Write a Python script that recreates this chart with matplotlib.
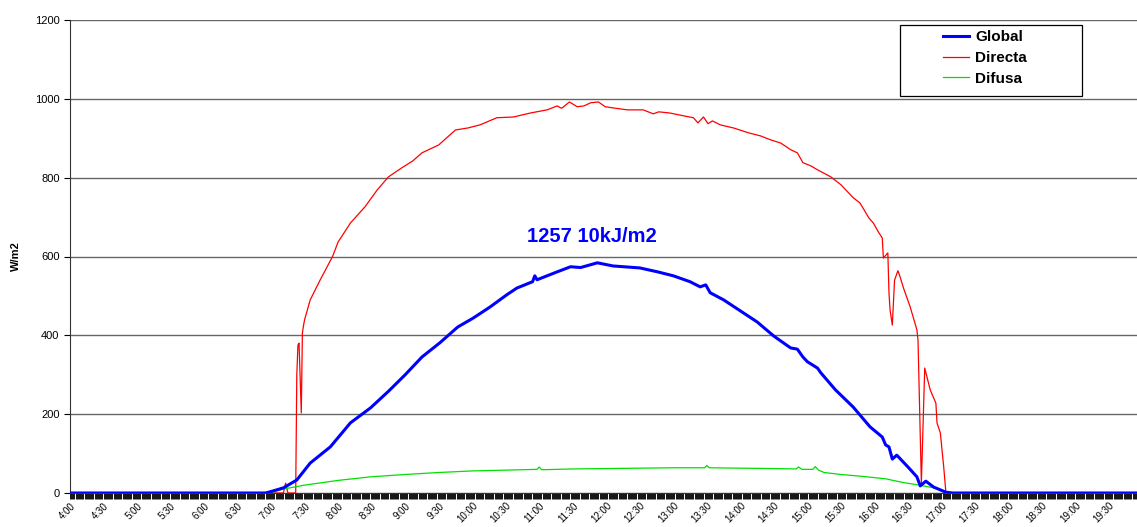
import numpy as np
import matplotlib.pyplot as plt
from matplotlib.ticker import MultipleLocator
from matplotlib.patches import Rectangle

plt.rcParams['font.family'] = ['Liberation Sans', 'DejaVu Sans']

# --- data (W/m2) ---
global_t = ["4:00", "6:55", "6:59", "7:11", "7:23", "7:35", "7:53", "8:11", "8:29",
            "8:45", "9:00", "9:15", "9:31", "9:47", "10:01", "10:16", "10:31", "10:40",
            "10:54", "10:56", "10:58", "11:16", "11:28", "11:37", "11:52", "12:06",
            "12:30", "12:46", "13:00", "13:15", "13:24", "13:29", "13:33", "13:45",
            "14:00", "14:15", "14:30", "14:45", "14:51", "14:56", "15:00", "15:09",
            "15:12", "15:25", "15:41", "15:56", "16:07", "16:10", "16:13", "16:16",
            "16:20", "16:30", "16:38", "16:41", "16:46", "16:53", "17:04", "17:10",
            "20:00"]
global_v = [0, 0, 3, 13, 33, 76, 117, 178, 216,
            258, 300, 345, 381, 421, 444, 472, 503, 520,
            536, 551, 541, 561, 574, 572, 584, 576,
            571, 561, 551, 536, 523, 528, 508, 490,
            462, 434, 398, 368, 365, 345, 333, 317,
            305, 262, 218, 168, 142, 122, 117, 86,
            96, 66, 41, 18, 30, 15, 2, 0,
            0]

direct_t = ["4:00", "7:11", "7:13", "7:15", "7:22", "7:23", "7:24", "7:25", "7:27",
            "7:28", "7:29", "7:30", "7:35", "7:44", "7:55", "8:00", "8:11", "8:24",
            "8:35", "8:45", "8:57", "9:07", "9:15", "9:30", "9:45", "9:56", "10:07",
            "10:22", "10:37", "10:52", "11:07", "11:16", "11:20", "11:27", "11:34",
            "11:40", "11:46", "11:53", "11:59", "12:06", "12:19", "12:33", "12:42",
            "12:47", "12:57", "13:09", "13:18", "13:22", "13:27", "13:31", "13:35",
            "13:42", "13:54", "14:07", "14:18", "14:27", "14:36", "14:45", "14:51",
            "14:56", "15:03", "15:09", "15:21", "15:30", "15:41", "15:47", "15:55",
            "15:59", "16:04", "16:07", "16:08", "16:12", "16:13", "16:14", "16:16",
            "16:18", "16:21", "16:23", "16:26", "16:32", "16:38", "16:39", "16:42",
            "16:45", "16:50", "16:55", "16:56", "16:59", "17:02", "17:04", "20:00"]
direct_v = [0, 0, 25, 0, 0, 300, 375, 380, 203,
            406, 425, 440, 490, 541, 600, 637, 685, 726,
            769, 802, 825, 843, 863, 883, 921, 926, 934,
            952, 954, 964, 972, 982, 976, 992, 980,
            982, 990, 992, 980, 977, 972, 972, 962,
            967, 964, 957, 952, 939, 954, 937, 944,
            934, 926, 914, 906, 896, 888, 871, 863,
            838, 830, 820, 802, 782, 749, 736, 698,
            685, 660, 647, 596, 609, 508, 464, 426,
            540, 564, 548, 520, 472, 414, 388, 25,
            317, 261, 228, 178, 152, 66, 0, 0]

diffuse_t = ["4:00", "6:59", "7:11", "7:30", "8:00", "8:29", "9:00", "9:30", "10:00",
             "10:30", "10:58", "11:00", "11:02", "11:30", "12:00", "12:30", "13:00",
             "13:28", "13:30", "13:32", "14:00", "14:30", "14:50", "14:52", "14:55",
             "15:05", "15:07", "15:10", "15:15", "15:30", "15:50", "16:10", "16:25",
             "16:40", "16:55", "17:05", "20:00"]
diffuse_v = [0, 0, 10, 20, 32, 41, 47, 52, 56,
             58, 60, 66, 59, 61, 62, 63, 64,
             64, 70, 64, 63, 62, 61, 66, 60,
             60, 67, 58, 52, 47, 42, 36, 27,
             20, 12, 0, 0]


def to_min(lst):
    out = []
    for s in lst:
        h, m = s.split(":")
        out.append((int(h) - 4) * 60 + int(m))
    return np.array(out)


W, H = 1137, 527
fig = plt.figure(figsize=(W / 100, H / 100), dpi=100)
ax_l, ax_b, ax_w, ax_h = 70, 34, 1067, 473
ax = fig.add_axes([ax_l / W, ax_b / H, ax_w / W, ax_h / H])

ax.plot(to_min(direct_t), direct_v, color="#ff0000", lw=0.9, label="Directa", zorder=3)
ax.plot(to_min(diffuse_t), diffuse_v, color="#00e000", lw=0.9, label="Difusa", zorder=3)
ax.plot(to_min(global_t), global_v, color="#0000ff", lw=2.2, label="Global", zorder=4)

ax.set_ylim(0, 1200)
ax.set_xlim(0, 955)
ax.set_yticks(range(0, 1201, 200))
ax.yaxis.grid(True, color="#666666", lw=1.0)
ax.set_axisbelow(True)

ticks = np.arange(0, 955, 30)
labels = ["%d:%02d" % (4 + t // 60, t % 60) for t in ticks]
ax.set_xticks(ticks)
ax.set_xticklabels(labels, rotation=45, ha="right", rotation_mode="anchor", fontsize=7)
ax.xaxis.set_minor_locator(MultipleLocator(1))
ax.tick_params(axis="x", which="major", length=4, width=0.7, pad=1.5, color="#111111")
ax.tick_params(axis="x", which="minor", length=4, width=0.7, color="#111111")
ax.tick_params(axis="y", labelsize=8, length=4)

for side in ["top", "right"]:
    ax.spines[side].set_visible(False)
ax.spines["left"].set_color("#333333")
ax.spines["bottom"].set_color("#333333")

ax.set_ylabel("W/m2", fontsize=8, fontweight="bold", labelpad=10)

ax.text(to_min(["11:47"])[0], 650, "1257 10kJ/m2", color="#0000ff",
        fontsize=14.5, fontweight="bold", ha="center", va="center")


# legend: frame drawn as a box, entries placed inside it
def px(x, y):
    return ((x - ax_l) / ax_w, (H - y - ax_b) / ax_h)


x0, y0 = px(900, 96)
x1, y1 = px(1082, 25)
ax.add_patch(Rectangle((x0, y0), x1 - x0, y1 - y0, transform=ax.transAxes,
                       facecolor="white", edgecolor="black", lw=0.9, zorder=5,
                       clip_on=False))
h, l = ax.get_legend_handles_labels()
order = [2, 0, 1]
leg = ax.legend([h[i] for i in order], [l[i] for i in order], loc="upper left",
                bbox_to_anchor=px(943, 30), frameon=False,
                prop={"weight": "bold", "size": 11},
                handlelength=1.7, borderpad=0.0, labelspacing=0.45,
                borderaxespad=0.0, handletextpad=0.4)
leg.set_zorder(6)

fig.savefig("out.png", dpi=100)
